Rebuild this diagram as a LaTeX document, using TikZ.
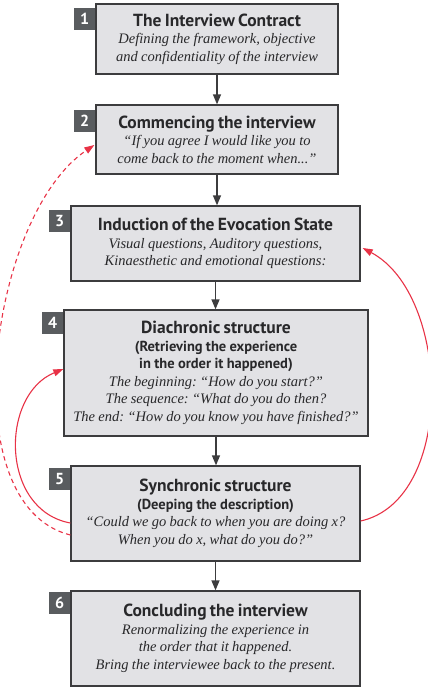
\documentclass[tikz,border=0pt]{standalone}
\usepackage{fontspec}
\setmainfont{Liberation Serif}
\newfontfamily\hfont{PT Sans}
\usetikzlibrary{arrows.meta,calc}
\definecolor{boxfill}{RGB}{226,226,229}
\definecolor{boxline}{RGB}{60,60,62}
\definecolor{tabfill}{RGB}{89,92,95}
\definecolor{redline}{RGB}{232,50,70}
\definecolor{txtcol}{RGB}{40,40,42}
\newcommand\hd[1]{{\hfont\bfseries\fontsize{17.5}{18}\selectfont #1\par}}
\newcommand\sh[1]{{\hfont\bfseries\fontsize{14.5}{17.5}\selectfont #1\par}}
\newcommand\tx[1]{{\itshape\fontsize{14.5}{17.5}\selectfont #1\par}}
\tikzset{
  box/.style={draw=boxline, fill=boxfill, line width=1.3pt, rectangle, inner sep=2pt, align=center, text=txtcol, font=\frenchspacing},
  tab/.style={fill=tabfill, rectangle, minimum width=21pt, minimum height=22pt, inner sep=0pt, text=white, font=\hfont\bfseries\fontsize{16}{16}\selectfont, anchor=north east},
  flow/.style={draw=boxline, line width=1.3pt, -{Triangle[length=10pt,width=8pt]}},
  back/.style={draw=redline, line width=1.1pt, -{Triangle[length=10pt,width=7pt]}}
}
\begin{document}
\begin{tikzpicture}[x=1pt,y=-1pt]
\useasboundingbox (0,0) rectangle (428,688);
\node[box, minimum width=242pt, minimum height=70pt, text width=238pt] (b1) at (217,39)
  {\hd{The Interview Contract}\tx{Defining the framework, objective\\and confidentiality of the interview}};
\node[box, minimum width=242pt, minimum height=69pt, text width=238pt] (b2) at (217,139.5)
  {\hd{Commencing the interview}\tx{“If you agree I would like you to\\come back to the moment when...”}};
\node[box, minimum width=289pt, minimum height=75pt, text width=285pt] (b3) at (215.5,243.5)
  {\hd{Induction of the Evocation State}\tx{Visual questions, Auditory questions,\\Kinaesthetic and emotional questions:}};
\node[box, minimum width=304pt, minimum height=126pt, text width=300pt] (b4) at (216,373)
  {\hd{Diachronic structure}\sh{(Retrieving the experience\\in the order it happened)}\tx{The beginning: “How do you start?”\\The sequence: “What do you do then?\\The end: “How do you know you have finished?”}};
\node[box, minimum width=289pt, minimum height=95pt, text width=285pt] (b5) at (215.5,513.5)
  {\hd{Synchronic structure}\sh{(Deeping the description)}\tx{“Could we go back to when you are doing x?\\When you do x, what do you do?”}};
\node[box, minimum width=289pt, minimum height=95pt, text width=285pt] (b6) at (215.5,638.5)
  {\hd{Concluding the interview}\tx{Renormalizing the experience in\\the order that it happened.\\Bring the interviewee back to the present.}};
\node[tab] (t1) at ([yshift=-4pt]b1.north west) {1};
\node[tab] (t2) at ([yshift=-5pt]b2.north west) {2};
\node[tab] (t3) at ([yshift=-4pt]b3.north west) {3};
\node[tab] (t4) at ([yshift=-2pt]b4.north west) {4};
\node[tab] (t5) at ([yshift=-2pt]b5.north west) {5};
\node[tab] (t6) at ([yshift=-1pt]b6.north west) {6};
\draw[flow] (b1.south) -- (b1.south |- b2.north);
\draw[flow] (b2.south) -- (b2.south |- b3.north);
\draw[flow] (b3.south) -- (b3.south |- b4.north);
\draw[flow] (b4.south) -- (b4.south |- b5.north);
\draw[flow] (b5.south) -- (b5.south |- b6.north);
\coordinate (s1) at ([yshift=-9.5pt]b5.west);
\coordinate (e1) at ([yshift=4pt]b4.west);
\coordinate (s2) at ([yshift=-21.5pt]b5.west);
\coordinate (e2) at ([yshift=-5.5pt,xshift=-1pt]b2.west);
\coordinate (s3) at ([yshift=-7.5pt]b5.east);
\coordinate (e3) at ([yshift=-4.5pt,xshift=2pt]b3.east);
\draw[back] (s1) .. controls (0,510) and (0,395) .. (e1);
\draw[back, dashed, dash pattern=on 4.5pt off 3.5pt] (s2) .. controls (-50,505) and (-10,215) .. (e2);
\draw[back] (s3) .. controls (456,500) and (451,295) .. (e3);
\end{tikzpicture}
\end{document}
